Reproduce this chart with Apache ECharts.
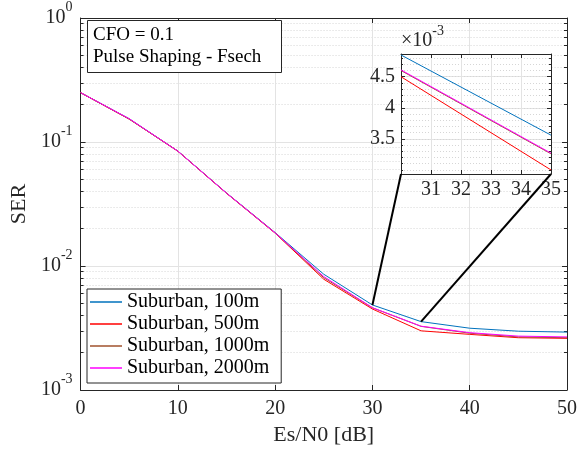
<!DOCTYPE html>
<html>
<head>
<meta charset="utf-8">
<script src="https://cdn.jsdelivr.net/npm/echarts@6/dist/echarts.min.js"></script>
<style>
html, body { margin: 0; padding: 0; background: #fff; }
#chart { width: 581px; height: 458px; }
</style>
</head>
<body>
<div id="chart"></div>
<script>
// Es/N0 points [dB]
var snr = [0, 5, 10, 15, 20, 25, 30, 35, 40, 45, 50];
// SER per scenario
var ser100 = [0.250, 0.154, 0.0845, 0.0388, 0.0186, 0.00858, 0.00485, 0.00356, 0.00315, 0.00298, 0.00293];
var ser500 = [0.250, 0.153, 0.0843, 0.0386, 0.0184, 0.00782, 0.00450, 0.00300, 0.00281, 0.00264, 0.00261];
var ser1000 = [0.250, 0.153, 0.0844, 0.0387, 0.0185, 0.00805, 0.00460, 0.00326, 0.00287, 0.00268, 0.00264];
var ser2000 = [0.250, 0.154, 0.0844, 0.0387, 0.0185, 0.00822, 0.00461, 0.00327, 0.00290, 0.00272, 0.00268];
var names = ['Suburban, 100m', 'Suburban, 500m', 'Suburban, 1000m', 'Suburban, 2000m'];
var colors = ['#0072BD', '#FF0000', '#A0522D', '#FF00FF'];

// inset (zoom) window
var zoomX = [30, 35];
var zoomY = [0.002935, 0.004866];
var zoomTicks = [0.0035, 0.004, 0.0045];

var FONT = 'Liberation Serif';
var AX = '#262626';

// minor log ticks 2..9 x 10^k
var minorLog = [];
for (var k = -3; k < 0; k++) {
    for (var m = 2; m <= 9; m++) minorLog.push(+(m * Math.pow(10, k)).toPrecision(3));
}
// inset minor ticks, every 1e-4
var minorZoom = [];
for (var v = 30; v <= 48; v++) minorZoom.push(v / 10000);

var chart = echarts.init(document.getElementById('chart'));

function pairs(ys, lo, hi) {
    var out = [];
    for (var i = 0; i < snr.length; i++) {
        if (lo == null || (snr[i] >= lo && snr[i] <= hi)) out.push([snr[i], ys[i]]);
    }
    return out;
}
var allSer = [ser100, ser500, ser1000, ser2000];

var series = [];
allSer.forEach(function (s, i) {
    series.push({
        name: names[i], type: 'line', xAxisIndex: 0, yAxisIndex: 0,
        symbol: 'none', color: colors[i], lineStyle: { width: 1 }, z: 3,
        data: pairs(s)
    });
});
allSer.forEach(function (s, i) {
    series.push({
        name: names[i], type: 'line', xAxisIndex: 2, yAxisIndex: 4,
        symbol: 'none', color: colors[i], lineStyle: { width: 1 }, z: 12,
        data: pairs(s, zoomX[0], zoomX[1])
    });
});

var lbl = { fontFamily: FONT, fontSize: 20, color: AX };
var supRich = {
    b: { fontFamily: FONT, fontSize: 20, color: AX, lineHeight: 20 },
    s: { fontFamily: FONT, fontSize: 14, color: AX, lineHeight: 14, padding: [0, 0, 22, 0] }
};

option = {
    backgroundColor: '#fff',
    animation: false,
    title: {
        text: 'CFO = 0.1\nPulse Shaping - Fsech',
        left: 87, top: 20,
        padding: [4, 20, 5, 6],
        borderColor: AX, borderWidth: 1, backgroundColor: '#fff',
        textStyle: { fontFamily: FONT, fontSize: 19, fontWeight: 'normal', color: '#000', lineHeight: 22 }
    },
    legend: {
        orient: 'vertical', left: 87, top: 289,
        padding: [3, 12, 5, 3], itemGap: 2,
        icon: 'rect', itemWidth: 32, itemHeight: 1.5,
        borderColor: AX, borderWidth: 1, backgroundColor: '#fff',
        textStyle: { fontFamily: FONT, fontSize: 20, color: '#000', lineHeight: 20 },
        data: names
    },
    grid: [
        { left: 78, top: 15, width: 489, height: 375 },
        { left: 401, top: 54, width: 150, height: 120, show: true, backgroundColor: '#fff', borderWidth: 0, z: 10 }
    ],
    xAxis: [
        { gridIndex: 0, type: 'value', min: 0, max: 50, interval: 10, position: 'bottom',
          axisLine: { lineStyle: { color: AX } },
          axisTick: { inside: true, length: 5, lineStyle: { color: AX } },
          axisLabel: Object.assign({ margin: 9 }, lbl),
          splitLine: { show: true, lineStyle: { color: '#E3E3E3', width: 1 } },
          name: 'Es/N0 [dB]', nameLocation: 'middle', nameGap: 31,
          nameTextStyle: { fontFamily: FONT, fontSize: 22, color: AX } },
        { gridIndex: 0, type: 'value', min: 0, max: 50, interval: 10, position: 'top',
          axisLine: { lineStyle: { color: AX } },
          axisTick: { inside: true, length: 5, lineStyle: { color: AX } },
          axisLabel: { show: false }, splitLine: { show: false } },
        { gridIndex: 1, type: 'value', min: zoomX[0], max: zoomX[1], interval: 1, position: 'bottom', z: 11,
          axisLine: { lineStyle: { color: AX } },
          axisTick: { inside: true, length: 4, lineStyle: { color: AX } },
          axisLabel: Object.assign({ margin: 6, showMinLabel: false }, lbl),
          splitLine: { show: true, lineStyle: { color: '#E3E3E3', width: 1 } } },
        { gridIndex: 1, type: 'value', min: zoomX[0], max: zoomX[1], interval: 1, position: 'top', z: 11,
          axisLine: { lineStyle: { color: AX } },
          axisTick: { inside: true, length: 4, lineStyle: { color: AX } },
          axisLabel: { show: false }, splitLine: { show: false } }
    ],
    yAxis: [
        { gridIndex: 0, type: 'log', logBase: 10, min: 0.001, max: 1, position: 'left',
          axisLine: { show: true, lineStyle: { color: AX } },
          axisTick: { inside: true, length: 5, lineStyle: { color: AX } },
          axisLabel: { margin: 8, rich: supRich,
              formatter: function (v) { return '{b|10}{s|' + Math.round(Math.log(v) / Math.LN10) + '}'; } },
          splitLine: { show: true, lineStyle: { color: '#E3E3E3', width: 1 } },
          name: 'SER', nameLocation: 'middle', nameGap: 50,
          nameTextStyle: { fontFamily: FONT, fontSize: 22, color: AX } },
        { gridIndex: 0, type: 'log', logBase: 10, min: 0.001, max: 1, position: 'left',
          axisLine: { show: false },
          axisTick: { inside: true, length: 3, customValues: minorLog, lineStyle: { color: AX } },
          axisLabel: { show: false },
          splitLine: { show: true, lineStyle: { color: '#D6D6D6', width: 1, type: [1, 2] } } },
        { gridIndex: 0, type: 'log', logBase: 10, min: 0.001, max: 1, position: 'right',
          axisLine: { show: true, lineStyle: { color: AX } },
          axisTick: { inside: true, length: 5, lineStyle: { color: AX } },
          axisLabel: { show: false }, splitLine: { show: false } },
        { gridIndex: 0, type: 'log', logBase: 10, min: 0.001, max: 1, position: 'right',
          axisLine: { show: false },
          axisTick: { inside: true, length: 3, customValues: minorLog, lineStyle: { color: AX } },
          axisLabel: { show: false }, splitLine: { show: false } },
        { gridIndex: 1, type: 'value', min: zoomY[0], max: zoomY[1], position: 'left', z: 11,
          axisLine: { show: true, lineStyle: { color: AX } },
          axisTick: { inside: true, length: 4, customValues: zoomTicks, lineStyle: { color: AX } },
          axisLabel: Object.assign({ margin: 6, customValues: zoomTicks,
              formatter: function (v) { return String(+(v * 1000).toFixed(1)); } }, lbl),
          splitLine: { show: true, lineStyle: { color: '#E3E3E3', width: 1 } },
          name: '×10{s|-3}', nameLocation: 'end', nameGap: 3,
          nameTextStyle: { fontFamily: FONT, fontSize: 20, color: AX, align: 'left', lineHeight: 20,
              rich: { s: { fontFamily: FONT, fontSize: 14, color: AX, lineHeight: 14, padding: [0, 0, 20, 0] } } } },
        { gridIndex: 1, type: 'value', min: zoomY[0], max: zoomY[1], position: 'left', z: 11,
          axisLine: { show: false },
          axisTick: { inside: true, length: 2, customValues: minorZoom, lineStyle: { color: AX } },
          axisLabel: { show: false },
          splitLine: { show: true, lineStyle: { color: '#D6D6D6', width: 1, type: [1, 2] } } },
        { gridIndex: 1, type: 'value', min: zoomY[0], max: zoomY[1], position: 'right', z: 11,
          axisLine: { show: true, lineStyle: { color: AX } },
          axisTick: { inside: true, length: 4, customValues: zoomTicks, lineStyle: { color: AX } },
          axisLabel: { show: false }, splitLine: { show: false } },
        { gridIndex: 1, type: 'value', min: zoomY[0], max: zoomY[1], position: 'right', z: 11,
          axisLine: { show: false },
          axisTick: { inside: true, length: 2, customValues: minorZoom, lineStyle: { color: AX } },
          axisLabel: { show: false }, splitLine: { show: false } }
    ],
    series: series
};
chart.setOption(option);

// zoom connector lines: main curve point -> inset bottom corners
var a1 = chart.convertToPixel({ xAxisIndex: 0, yAxisIndex: 0 }, [zoomX[0], ser100[snr.indexOf(zoomX[0])]]);
var a2 = chart.convertToPixel({ xAxisIndex: 0, yAxisIndex: 0 }, [zoomX[1], ser100[snr.indexOf(zoomX[1])]]);
var b1 = chart.convertToPixel({ xAxisIndex: 2, yAxisIndex: 4 }, [zoomX[0], zoomY[0]]);
var b2 = chart.convertToPixel({ xAxisIndex: 2, yAxisIndex: 4 }, [zoomX[1], zoomY[0]]);
chart.setOption({
    graphic: [
        { type: 'line', z: 20, shape: { x1: a1[0], y1: a1[1], x2: b1[0], y2: b1[1] }, style: { stroke: '#000', lineWidth: 2 } },
        { type: 'line', z: 20, shape: { x1: a2[0], y1: a2[1], x2: b2[0], y2: b2[1] }, style: { stroke: '#000', lineWidth: 2 } }
    ]
});
</script>
</body>
</html>
